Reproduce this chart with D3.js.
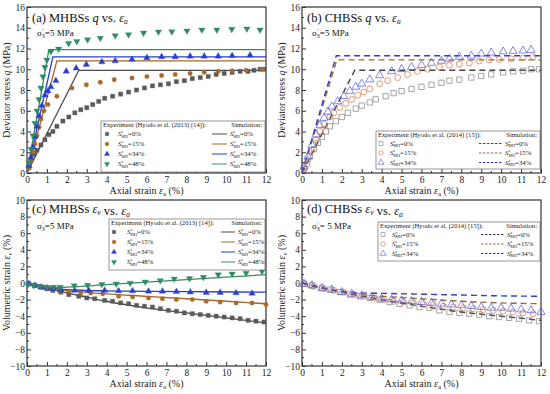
<!DOCTYPE html>
<html>
<head>
<meta charset="utf-8">
<script src="https://cdn.jsdelivr.net/npm/d3@7"></script>
<style>
  body { margin: 0; background: #fff; }
  svg { font-family: "Liberation Serif", "DejaVu Serif", serif; }
</style>
</head>
<body>
<svg id="chart" width="550" height="394"></svg>
<script>
// ---- data ----
const saturations = ["0%", "15%", "34%", "48%"];
const xTicks = [0, 1, 2, 3, 4, 5, 6, 7, 8, 9, 10, 11, 12];
const qTicks = [0, 2, 4, 6, 8, 10, 12, 14, 16];
const evTicks = [-10, -8, -6, -4, -2, 0, 2, 4, 6, 8, 10];

// (a) MHBSs q vs ea : experiment
const aExp0 = [[0.1,0.5],[0.2,1.2],[0.35,1.8],[0.5,2.2],[0.7,2.7],[0.9,3.2],[1.1,3.7],[1.3,4.0],[1.5,4.5],[1.8,5.0],[2.1,5.4],[2.4,5.8],[2.7,6.1],[3.0,6.3],[3.3,6.6],[3.6,6.9],[3.9,7.2],[4.3,7.4],[4.7,7.6],[5.1,7.8],[5.5,8.0],[5.9,8.2],[6.3,8.4],[6.7,8.5],[7.1,8.6],[7.5,8.8],[7.9,8.9],[8.3,9.1],[8.7,9.2],[9.1,9.3],[9.5,9.5],[9.9,9.6],[10.3,9.7],[10.7,9.8],[11.1,9.8],[11.4,9.9],[11.7,10.0],[11.9,10.0]];
const aExp15 = [[0.1,0.5],[0.2,1.2],[0.3,2.0],[0.4,2.8],[0.5,3.6],[0.6,4.4],[0.7,5.2],[0.85,6.0],[1.05,6.6],[1.5,7.4],[2.26,8.2],[2.98,8.5],[3.68,8.75],[4.38,9.0],[5.27,9.15],[6.02,9.3],[6.76,9.4],[7.44,9.5],[8.19,9.6],[8.9,9.7],[9.6,9.8],[10.3,9.85],[11.0,9.9],[11.8,10.0]];
const aExp34 = [[0.1,0.7],[0.2,1.5],[0.3,2.5],[0.4,3.5],[0.5,4.5],[0.6,5.5],[0.75,6.5],[0.9,7.5],[1.05,7.9],[1.2,8.3],[1.45,8.9],[1.97,9.8],[2.47,10.1],[2.98,10.45],[3.76,10.7],[4.43,10.8],[5.27,10.95],[6.02,11.1],[6.76,11.2],[7.44,11.2],[8.19,11.25],[8.9,11.25],[9.6,11.25],[10.3,11.3],[11.2,11.35]];
const aExp48 = [[0.1,1.0],[0.2,2.3],[0.3,3.6],[0.4,4.8],[0.5,6.0],[0.6,7.1],[0.7,8.2],[0.8,9.3],[0.9,10.2],[1.0,10.9],[1.2,11.7],[1.59,11.96],[2.09,12.5],[2.5,12.7],[3.04,12.86],[3.68,13.0],[4.43,13.25],[5.1,13.35],[5.85,13.5],[6.6,13.6],[7.27,13.63],[8.03,13.7],[8.78,13.8],[9.53,13.8],[10.28,13.86],[11.04,13.9],[11.7,13.8]];
// (a) simulation
const aSim0 = [[0,0],[2.6,9.9],[12,9.9]];
const aSim15 = [[0,0],[1.5,10.8],[12,10.8]];
const aSim34 = [[0,0],[1.3,11.2],[12,11.2]];
const aSim48 = [[0,0],[1.1,11.9],[12,11.9]];

// (b) CHBSs q vs ea : experiment
const bExp0 = [[0.1,0.4],[0.25,0.9],[0.4,1.6],[0.6,2.3],[0.8,2.9],[1.0,3.5],[1.2,4.0],[1.4,4.5],[1.7,5.0],[2.0,5.4],[2.3,5.8],[2.7,6.2],[3.0,6.5],[3.4,6.8],[3.7,7.1],[4.2,7.4],[4.6,7.7],[5.0,7.9],[5.5,8.1],[6.0,8.3],[6.5,8.5],[7.0,8.7],[7.4,8.9],[7.9,9.0],[8.5,9.2],[9.0,9.35],[9.5,9.5],[10.1,9.7],[10.6,9.8],[11.1,9.85],[11.5,10.0],[11.9,10.0]];
const bExp15 = [[0.1,0.5],[0.3,1.3],[0.5,2.2],[0.7,3.2],[0.9,4.0],[1.1,4.7],[1.4,5.4],[1.6,5.8],[1.9,6.3],[2.2,6.7],[2.5,7.1],[2.8,7.5],[3.1,7.8],[3.4,8.1],[3.9,8.6],[4.3,8.9],[4.8,9.2],[5.3,9.5],[5.8,9.8],[6.3,10.0],[6.9,10.2],[7.4,10.4],[7.9,10.5],[8.4,10.6],[8.9,10.8],[9.4,10.9],[9.9,10.95],[10.5,11.0],[11.1,11.1],[11.6,11.2]];
const bExp34 = [[0.1,0.6],[0.3,1.6],[0.5,2.7],[0.7,3.7],[0.9,4.6],[1.1,5.3],[1.3,5.9],[1.5,6.4],[1.8,6.9],[2.1,7.4],[2.4,7.9],[2.7,8.3],[3.0,8.6],[3.4,9.0],[3.9,9.4],[4.5,9.8],[5.0,10.0],[5.5,10.2],[6.0,10.4],[6.5,10.6],[7.0,10.8],[7.4,11.0],[7.9,11.2],[8.5,11.3],[9.0,11.5],[9.5,11.6],[10.1,11.7],[10.6,11.75],[11.1,11.8],[11.5,11.85]];
// (b) simulation
const bSim0 = [[0,0],[2.65,9.9],[12,9.9]];
const bSim15 = [[0,0],[1.75,10.9],[12,10.9]];
const bSim34 = [[0,0],[1.72,11.3],[12,11.3]];

// (c) MHBSs ev vs ea : experiment
const cExp0 = [[0.1,-0.1],[0.4,-0.3],[0.7,-0.5],[1.0,-0.7],[1.3,-0.9],[1.7,-1.1],[2.1,-1.4],[2.6,-1.6],[3.0,-1.8],[3.4,-1.9],[3.9,-2.1],[4.3,-2.2],[4.7,-2.4],[5.1,-2.5],[5.5,-2.7],[5.9,-2.8],[6.3,-2.9],[6.7,-3.1],[7.1,-3.3],[7.5,-3.4],[7.9,-3.6],[8.3,-3.7],[8.7,-3.8],[9.1,-3.9],[9.5,-4.0],[9.9,-4.1],[10.3,-4.2],[10.7,-4.3],[11.1,-4.5],[11.5,-4.6],[11.9,-4.7]];
const cExp15 = [[0.1,-0.1],[0.4,-0.3],[0.8,-0.5],[1.2,-0.7],[1.6,-0.9],[2.1,-1.0],[2.7,-1.2],[3.2,-1.2],[3.8,-1.3],[4.6,-1.6],[5.3,-1.7],[6.1,-1.8],[6.8,-1.9],[7.5,-2.0],[8.3,-2.0],[9.0,-2.2],[9.7,-2.3],[10.5,-2.4],[11.3,-2.4],[12.0,-2.6]];
const cExp34 = [[0.1,-0.1],[0.4,-0.3],[0.7,-0.5],[1.0,-0.6],[1.3,-0.7],[1.7,-0.8],[2.4,-0.9],[3.1,-0.9],[3.9,-0.9],[4.6,-0.95],[5.3,-0.95],[6.1,-1.0],[6.8,-1.0],[7.5,-1.05],[8.2,-1.1],[9.0,-1.15],[9.7,-1.15],[10.5,-1.2],[11.3,-1.25]];
const cExp48 = [[0.05,-0.2],[0.33,-0.3],[0.67,-0.4],[1.0,-0.5],[1.34,-0.5],[1.67,-0.5],[2.37,-0.3],[3.04,-0.25],[3.76,-0.15],[4.48,-0.1],[5.18,0.0],[5.94,0.15],[6.69,0.3],[7.39,0.5],[8.16,0.55],[8.86,0.7],[9.6,1.0],[10.3,1.1],[11.0,1.2],[11.8,1.4]];
// (c) simulation
const cSim0 = [[0,0],[1,-0.6],[2,-1.2],[3,-1.7],[4,-2.2],[6,-3.0],[8,-3.6],[10,-4.2],[12,-4.8]];
const cSim15 = [[0,0],[1,-0.5],[2,-0.9],[4,-1.3],[6,-1.6],[8,-1.9],[10,-2.2],[12,-2.5]];
const cSim34 = [[0,0],[1,-0.5],[2,-0.8],[4,-0.95],[6,-1.0],[8,-1.05],[12,-1.1]];
const cSim48 = [[0,0],[1,-0.4],[1.5,-0.55],[2,-0.5],[4,-0.2],[6,0.1],[8,0.4],[10,0.7],[12,1.0]];

// (d) CHBSs ev vs ea : experiment
const dExp0 = [[0.1,-0.1],[0.5,-0.3],[1.0,-0.6],[1.4,-0.8],[1.9,-1.1],[2.4,-1.4],[2.9,-1.6],[3.4,-1.8],[3.9,-2.0],[4.4,-2.3],[4.9,-2.5],[5.4,-2.7],[5.9,-2.9],[6.4,-3.0],[6.9,-3.3],[7.4,-3.5],[7.9,-3.6],[8.4,-3.7],[8.9,-3.8],[9.4,-4.0],[9.9,-4.1],[10.4,-4.2],[10.9,-4.3],[11.4,-4.5],[11.9,-4.6]];
const dExp15 = [[0.1,-0.1],[0.6,-0.4],[1.1,-0.7],[1.6,-0.9],[2.1,-1.1],[2.6,-1.4],[3.1,-1.6],[3.6,-1.8],[4.1,-2.0],[4.6,-2.2],[5.1,-2.3],[5.6,-2.4],[6.1,-2.5],[6.6,-2.6],[7.1,-2.8],[7.6,-2.9],[8.1,-3.0],[8.6,-3.1],[9.1,-3.2],[9.6,-3.3],[10.1,-3.4],[10.6,-3.5],[11.1,-3.6],[11.6,-3.7]];
const dExp34 = [[0.1,-0.1],[0.5,-0.3],[1.0,-0.6],[1.5,-0.8],[2.0,-1.1],[2.5,-1.3],[3.0,-1.5],[3.5,-1.7],[4.0,-1.9],[4.5,-2.0],[5.0,-2.1],[5.5,-2.2],[6.0,-2.3],[6.5,-2.4],[7.0,-2.5],[7.5,-2.6],[8.0,-2.7],[8.5,-2.8],[9.0,-2.9],[9.5,-3.0],[10.0,-3.0],[10.5,-3.1],[11.0,-3.2],[11.5,-3.3],[12.0,-3.5]];
// (d) simulation
const dSim0 = [[0,0],[2,-1.1],[4,-2.0],[6,-2.8],[8,-3.5],[10,-4.0],[12,-4.5]];
const dSim15 = [[0,0],[2,-1.1],[3,-1.4],[4,-1.6],[6,-1.9],[8,-2.2],[10,-2.4],[12,-2.5]];
const dSim34 = [[0,0],[2,-1.0],[3,-1.2],[4,-1.25],[6,-1.35],[8,-1.45],[10,-1.55],[12,-1.6]];

// ---- styling ----
const mhMarkerColors = ["#5a5a5a", "#a86b2c", "#2b3fcf", "#2f8a68"];
const mhLineColors = ["#4a4a4a", "#a5672a", "#2a3ec8", "#3a8a5c"];
const chMarkerColors = ["#808080", "#d4704c", "#4a5ad8"];
const chLineColors = ["#444444", "#9a6a30", "#3040c8"];
const shapes = [d3.symbolSquare, d3.symbolCircle, d3.symbolTriangle, d3.symbolTriangle];

const svg = d3.select("#chart");

function panel(opt) {
  const g = svg.append("g");
  const x = d3.scaleLinear().domain([0, 12]).range([opt.left, opt.left + 239]);
  const y = d3.scaleLinear().domain(opt.yDomain).range([opt.top + 166, opt.top]);

  // minor ticks
  const minorX = d3.range(0.5, 12, 1);
  const yStep = opt.yTicks[1] - opt.yTicks[0];
  const minorY = d3.range(opt.yDomain[0] + yStep / 2, opt.yDomain[1], yStep);
  g.selectAll(".mx").data(minorX).enter().append("line")
    .attr("x1", d => x(d)).attr("x2", d => x(d))
    .attr("y1", y.range()[0]).attr("y2", y.range()[0] - 2)
    .attr("stroke", "#000").attr("stroke-width", 0.8);
  g.selectAll(".my").data(minorY).enter().append("line")
    .attr("y1", d => y(d)).attr("y2", d => y(d))
    .attr("x1", opt.left).attr("x2", opt.left + 2)
    .attr("stroke", "#000").attr("stroke-width", 0.8);

  const xAxis = d3.axisBottom(x).tickValues(xTicks).tickSizeInner(-4).tickSizeOuter(0).tickPadding(3);
  const yAxis = d3.axisLeft(y).tickValues(opt.yTicks).tickSizeInner(-4).tickSizeOuter(0).tickPadding(2);
  const gx = g.append("g").attr("transform", `translate(0,${y.range()[0]})`).call(xAxis);
  const gy = g.append("g").attr("transform", `translate(${opt.left},0)`).call(yAxis);
  [gx, gy].forEach(a => {
    a.select(".domain").remove();
    a.selectAll("text").attr("font-size", 9.5).attr("font-family", "Liberation Serif").attr("fill", "#222");
    a.selectAll("line").attr("stroke-width", 0.8);
  });

  // frame
  g.append("rect").attr("x", opt.left).attr("y", opt.top)
    .attr("width", 239).attr("height", 166)
    .attr("fill", "none").attr("stroke", "#333").attr("stroke-width", 1.2);

  // simulation lines
  const line = d3.line().x(d => x(d[0])).y(d => y(d[1])).curve(opt.curve);
  opt.sims.forEach((s, i) => {
    g.append("path").datum(s).attr("d", line)
      .attr("fill", "none").attr("stroke", opt.lineColors[i])
      .attr("stroke-width", opt.dashed ? 1.4 : 1.3)
      .attr("stroke-dasharray", opt.dashed ? "6,4" : null);
  });

  // experiment markers
  opt.exps.forEach((s, i) => {
    const sym = d3.symbol().type(shapes[i]).size(opt.filled ? (i === 1 ? 16 : 18) : 28);
    g.selectAll(null).data(s).enter().append("path")
      .attr("d", sym)
      .attr("transform", d => `translate(${x(d[0])},${y(d[1])})${i === 3 ? " rotate(180)" : ""}`)
      .attr("fill", opt.filled ? opt.markerColors[i] : "none")
      .attr("stroke", opt.markerColors[i])
      .attr("stroke-width", opt.filled ? 0.3 : 0.7);
  });

  // title
  const t = g.append("text").attr("x", opt.left + 5).attr("y", opt.top + opt.titleY)
    .attr("font-size", 12.5).attr("fill", "#111");
  t.append("tspan").text(opt.label + " " + opt.soil + " ");
  if (opt.kind === "q") {
    t.append("tspan").attr("font-style", "italic").text("q");
  } else {
    t.append("tspan").attr("font-style", "italic").text("ε");
    t.append("tspan").attr("font-style", "italic").attr("font-size", 7.5).attr("dy", 2).text("v");
    t.append("tspan").attr("dy", -2).text("");
  }
  t.append("tspan").text(" vs. ");
  t.append("tspan").attr("font-style", "italic").text("ε");
  t.append("tspan").attr("font-style", "italic").attr("font-size", 7.5).attr("dy", 2).text("a");

  // confining stress
  const sx = opt.left + 10, sy = opt.top + 29;
  const s3 = g.append("text").attr("x", sx).attr("y", sy)
    .attr("font-size", 9).attr("fill", "#111");
  s3.append("tspan").text("σ");
  s3.append("tspan").attr("font-size", 6).attr("dy", 2).text("3");
  s3.append("tspan").attr("dy", -2).text(opt.sigmaText);
  g.append("text").attr("x", sx + 5.5).attr("y", sy - 3).attr("font-size", 6)
    .attr("fill", "#111").text("'");

  // axis labels
  const xl = g.append("text").attr("x", opt.left + 119.5).attr("y", y.range()[0] + 21)
    .attr("text-anchor", "middle").attr("font-size", 10).attr("fill", "#222");
  xl.append("tspan").text("Axial strain ");
  xl.append("tspan").attr("font-style", "italic").text("ε");
  xl.append("tspan").attr("font-size", 7).attr("dy", 2).text("a");
  xl.append("tspan").attr("dy", -2).text(" (%)");

  const yl = g.append("text")
    .attr("transform", `translate(${opt.left - 17},${opt.top + 83}) rotate(-90)`)
    .attr("text-anchor", "middle").attr("font-size", 10).attr("fill", "#222");
  if (opt.kind === "q") {
    yl.append("tspan").text("Deviator stress ");
    yl.append("tspan").attr("font-style", "italic").text("q");
    yl.append("tspan").text(" (MPa)");
  } else {
    yl.append("tspan").text("Volumetric strain ");
    yl.append("tspan").attr("font-style", "italic").text("ε");
    yl.append("tspan").attr("font-style", "italic").attr("font-size", 7).attr("dy", 2).text("v");
    yl.append("tspan").attr("dy", -2).text(" (%)");
  }

  // legend
  const L = opt.legend;
  const lg = g.append("g");
  lg.append("rect").attr("x", L.x).attr("y", L.y).attr("width", L.w).attr("height", L.h)
    .attr("fill", "#fff").attr("stroke", "#555").attr("stroke-width", 0.6);
  lg.append("text").attr("x", L.x + 2).attr("y", L.y + 6)
    .attr("font-size", 6.6).attr("fill", "#222").text(opt.ref);
  lg.append("text").attr("x", L.x + L.w - 3).attr("y", L.y + 6).attr("text-anchor", "end")
    .attr("font-size", 6.6).attr("fill", "#222").text("Simulation:");
  opt.exps.forEach((s, i) => {
    const ry = L.y + L.first + i * L.gap;
    const sym = d3.symbol().type(shapes[i]).size(opt.filled ? 12 : 16);
    lg.append("path").attr("d", sym)
      .attr("transform", `translate(${L.x + L.mx},${ry})${i === 3 ? " rotate(180)" : ""}`)
      .attr("fill", opt.filled ? opt.markerColors[i] : "none")
      .attr("stroke", opt.markerColors[i]).attr("stroke-width", opt.filled ? 0.3 : 0.6);
    satLabel(lg, L.x + L.tx, ry + 2, saturations[i]);
    lg.append("line").attr("x1", L.x + L.lx1).attr("x2", L.x + L.lx2)
      .attr("y1", ry).attr("y2", ry)
      .attr("stroke", opt.lineColors[i]).attr("stroke-width", 1)
      .attr("stroke-dasharray", opt.dashed ? "2.5,1.5" : null);
    satLabel(lg, L.x + L.lx2 + 3, ry + 2, saturations[i]);
  });
}

function satLabel(sel, x, y, val) {
  const t = sel.append("text").attr("x", x).attr("y", y).attr("font-size", 6.8).attr("fill", "#222");
  t.append("tspan").attr("font-style", "italic").text("S");
  t.append("tspan").attr("font-size", 4.2).attr("dy", -2.8).text("c");
  t.append("tspan").attr("font-size", 4.2).attr("dx", -1.9).attr("dy", 4.6).text("MH");
  t.append("tspan").attr("dy", -1.8).text("=" + val);
}

panel({
  label: "(a)", soil: "MHBSs", kind: "q", left: 27, top: 7, titleY: 15, yDomain: [0, 16], yTicks: qTicks,
  exps: [aExp0, aExp15, aExp34, aExp48], sims: [aSim0, aSim15, aSim34, aSim48],
  markerColors: mhMarkerColors, lineColors: mhLineColors, filled: true, dashed: false,
  curve: d3.curveLinear, sigmaText: "=5 MPa",
  ref: "Experiment (Hyodo et al. (2013) [14]):",
  legend: { x: 101, y: 121, w: 164, h: 51, first: 13, gap: 10, mx: 6, tx: 17, lx1: 111, lx2: 126 }
});
panel({
  label: "(b)", soil: "CHBSs", kind: "q", left: 302, top: 7, titleY: 15, yDomain: [0, 16], yTicks: qTicks,
  exps: [bExp0, bExp15, bExp34], sims: [bSim0, bSim15, bSim34],
  markerColors: chMarkerColors, lineColors: chLineColors, filled: false, dashed: true,
  curve: d3.curveLinear, sigmaText: "=5 MPa",
  ref: "Experiment (Hyodo et al. (2014) [15]):",
  legend: { x: 376, y: 131, w: 164, h: 38, first: 12.5, gap: 9.5, mx: 5, tx: 14, lx1: 103, lx2: 126 }
});
panel({
  label: "(c)", soil: "MHBSs", kind: "ev", left: 27, top: 200, titleY: 13, yDomain: [-10, 10], yTicks: evTicks,
  exps: [cExp0, cExp15, cExp34, cExp48], sims: [cSim0, cSim15, cSim34, cSim48],
  markerColors: mhMarkerColors, lineColors: mhLineColors, filled: true, dashed: false,
  curve: d3.curveMonotoneX, sigmaText: "=5 MPa",
  ref: "Experiment (Hyodo et al. (2013) [14]):",
  legend: { x: 109, y: 219, w: 156, h: 51, first: 13, gap: 10, mx: 5, tx: 18, lx1: 112, lx2: 126 }
});
panel({
  label: "(d)", soil: "CHBSs", kind: "ev", left: 302, top: 200, titleY: 13, yDomain: [-10, 10], yTicks: evTicks,
  exps: [dExp0, dExp15, dExp34], sims: [dSim0, dSim15, dSim34],
  markerColors: chMarkerColors, lineColors: chLineColors, filled: false, dashed: true,
  curve: d3.curveMonotoneX, sigmaText: "= 5 MPa",
  ref: "Experiment (Hyodo et al. (2014) [15]):",
  legend: { x: 378, y: 222, w: 162, h: 39, first: 12.5, gap: 9.5, mx: 5, tx: 14, lx1: 103, lx2: 126 }
});
</script>
</body>
</html>
